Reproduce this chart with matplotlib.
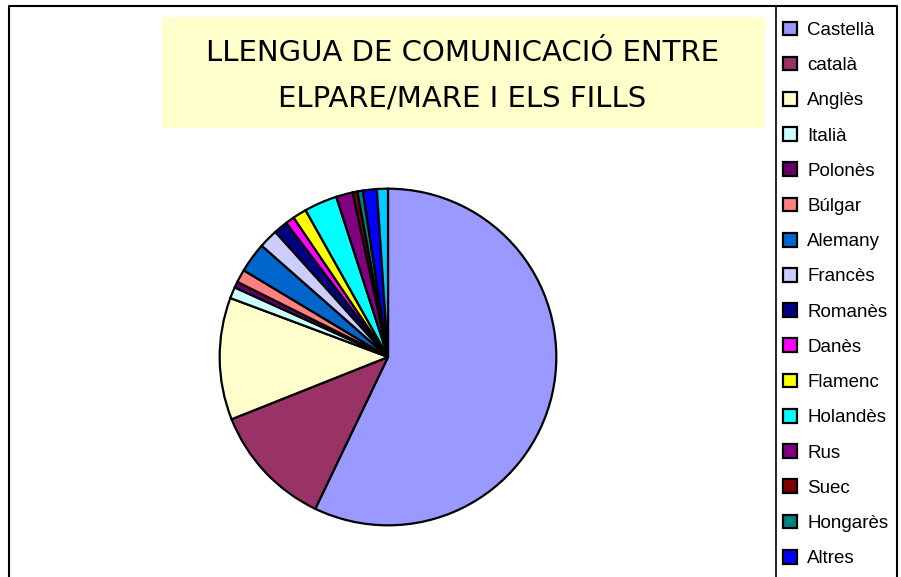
import matplotlib
matplotlib.use('Agg')
import matplotlib.pyplot as plt
from matplotlib.patches import Rectangle
from matplotlib.lines import Line2D

# llengües i pes de cada una (graus del sector)
llengues = ['Castellà', 'català', 'Anglès', 'Italià', 'Polonès', 'Búlgar',
            'Alemany', 'Francès', 'Romanès', 'Danès', 'Flamenc', 'Holandès',
            'Rus', 'Suec', 'Hongarès', 'Altres', 'resta']
valors = [205.6, 42.7, 42.2, 3.9, 2.1, 4.5, 10.4, 6.6, 4.8, 3.1, 4.8, 11.4,
          5.8, 1.6, 1.9, 4.8, 3.8]
colors = ['#9999FF', '#993366', '#FFFFCC', '#CCFFFF', '#660066', '#FF8080',
          '#0066CC', '#CCCCFF', '#000080', '#FF00FF', '#FFFF00', '#00FFFF',
          '#800080', '#800000', '#008080', '#0000FF', '#00CCFF']
titol = 'LLENGUA DE COMUNICACIÓ ENTRE\nELPARE/MARE I ELS FILLS'

W, H = 901, 577
fx = lambda x: x / W
fy = lambda y: 1 - y / H

fig = plt.figure(figsize=(W / 100, H / 100), dpi=100)
fig.patch.set_facecolor('white')

# marc exterior i caixa de la llegenda
fig.add_artist(Line2D([fx(9), fx(9), fx(897), fx(897)], [fy(600), fy(6), fy(6), fy(600)],
                      color='black', lw=1.5))
fig.add_artist(Line2D([fx(776), fx(776)], [fy(6), fy(600)], color='black', lw=1.2))

# requadre del títol
fig.add_artist(Rectangle((fx(162), fy(128)), fx(765) - fx(162), fy(17) - fy(128),
                         facecolor='#FFFFCC', edgecolor='none'))
fig.text(fx(462), fy(76), titol, ha='center', va='center', fontsize=21,
         family='DejaVu Sans', linespacing=1.8)

# pastís
cx, cy, r = 388, 357, 170
ax = fig.add_axes([fx(cx - r), fy(cy + r), 2 * r / W, 2 * r / H])
wedges, _ = ax.pie(valors, colors=colors, startangle=90, counterclock=False,
                   radius=1, wedgeprops=dict(edgecolor='black', linewidth=1.6))
ax.set_xlim(-1.01, 1.01)
ax.set_ylim(-1.01, 1.01)
ax.set_aspect('equal')
ax.axis('off')

fig.legend(wedges[:16], llengues[:16], loc='upper left',
           bbox_to_anchor=(fx(783), fy(21.5)), frameon=False,
           prop={'family': 'Liberation Sans', 'size': 13.5},
           handlelength=0.75, handleheight=0.75, handletextpad=0.55,
           labelspacing=0.95, borderaxespad=0, borderpad=0)

fig.savefig('out.png', dpi=100)
